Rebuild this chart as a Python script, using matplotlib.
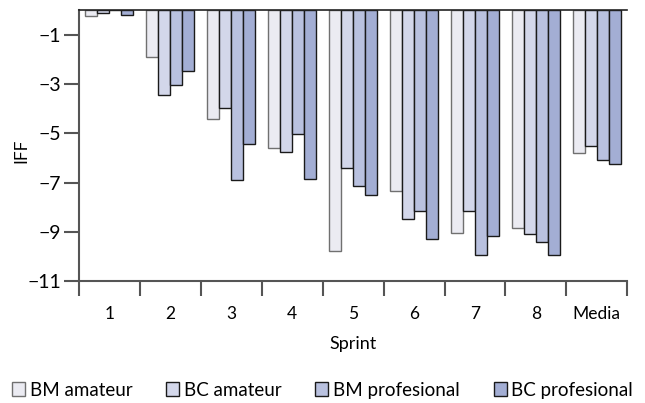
import matplotlib.pyplot as plt
import numpy as np

# datos
sprints = ['1', '2', '3', '4', '5', '6', '7', '8', 'Media']
bm_amateur = [-0.22, -1.91, -4.43, -5.58, -9.78, -7.36, -9.05, -8.83, -5.80]
bc_amateur = [-0.10, -3.45, -3.98, -5.76, -6.39, -8.48, -8.16, -9.10, -5.53]
bm_prof = [0.07, -3.03, -6.90, -5.03, -7.12, -8.16, -9.94, -9.43, -6.06]
bc_prof = [-0.18, -2.48, -5.42, -6.87, -7.52, -9.29, -9.18, -9.93, -6.25]
series_names = ['BM amateur', 'BC amateur', 'BM profesional', 'BC profesional']
yticks = [-1, -3, -5, -7, -9, -11]

plt.rcParams['font.family'] = ['Lato', 'DejaVu Sans']

colors = ['#ebebf2', '#d3d7ea', '#b9c1df', '#a3aed4']
edges = ['#707070', '#1a1a1a', '#1a1a1a', '#1a1a1a']

fig = plt.figure(figsize=(6.45, 4.03), dpi=100)
ax = fig.add_axes([0.1225, 0.3027, 0.850, 0.6713])

x = np.arange(len(sprints))
w = 0.197
data = [bm_amateur, bc_amateur, bm_prof, bc_prof]
for i, vals in enumerate(data):
    ax.bar(x + (i - 1.5) * w, vals, w, color=colors[i], edgecolor=edges[i],
           linewidth=1.0, label=series_names[i])

ax.set_xlim(-0.5, len(sprints) - 0.5)
ax.set_ylim(-11, 0)
ax.set_yticks(yticks)
ax.set_yticklabels(['\u2212' + str(-t) for t in yticks], fontsize=14)
ax.set_xticks(np.arange(len(sprints) + 1) - 0.5)
ax.set_xticklabels([])
ax.set_xticks(x, minor=True)
ax.set_xticklabels(sprints, minor=True, fontsize=12.5)
ax.tick_params(axis='x', which='major', length=11, width=1.5, color='#555555', direction='out')
ax.tick_params(axis='x', which='minor', length=0, pad=18)
ax.tick_params(axis='y', length=11, width=1.5, color='#555555', pad=2)

ax.spines['right'].set_visible(False)
for s in ['left', 'bottom', 'top']:
    ax.spines[s].set_color('#555555')
    ax.spines[s].set_linewidth(1.5)
ax.spines['top'].set_color('#222222')
ax.spines['top'].set_linewidth(1.2)

ax.set_ylabel('IFF', fontsize=12.5)
ax.yaxis.set_label_coords(-0.09, 0.48)
ax.set_xlabel('Sprint', fontsize=13, labelpad=10)

fig.legend(loc='center', bbox_to_anchor=(0.5, 0.032), ncol=4, frameon=False,
           fontsize=13.5, handlelength=0.7, handleheight=0.7, handletextpad=0.25,
           columnspacing=1.8)

plt.savefig('out.png', dpi=100)
